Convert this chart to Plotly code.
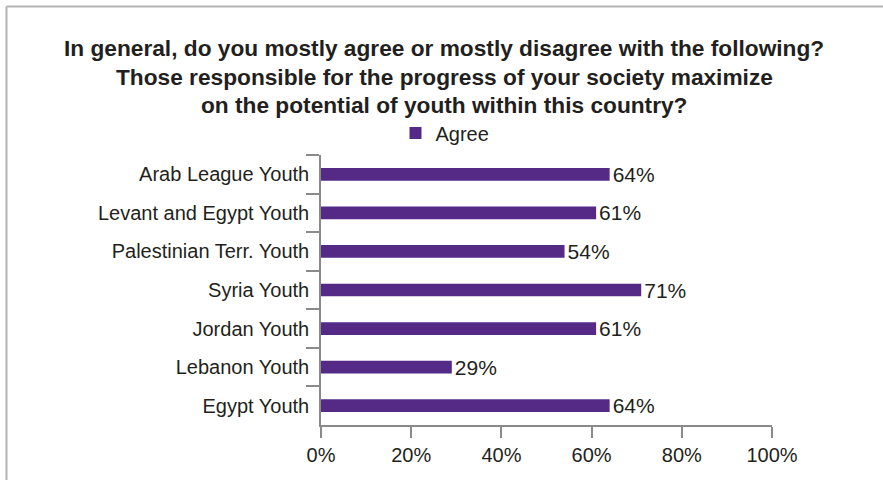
import plotly.graph_objects as go

categories = ["Arab League Youth", "Levant and Egypt Youth", "Palestinian Terr. Youth",
              "Syria Youth", "Jordan Youth", "Lebanon Youth", "Egypt Youth"]
agree = [64, 61, 54, 71, 61, 29, 64]
tick_vals = [0, 20, 40, 60, 80, 100]
tick_text = ["0%", "20%", "40%", "60%", "80%", "100%"]
series_name = "Agree"
title_lines = ["In general, do you mostly agree or mostly disagree with the following?",
               "Those responsible for the progress of your society maximize",
               "on the potential of youth within this country?"]

W, H = 883, 480
L, R, T, B = 321, 111, 155, 55
pw, ph = W - L - R, H - T - B

def px_x(x):
    return (x - L) / pw

def px_y(y):
    return (H - B - y) / ph

txt = "#231f20"
fnt = "Liberation Sans, Arial, sans-serif"

fig = go.Figure()
fig.add_trace(go.Bar(
    y=categories, x=agree, orientation="h", name=series_name,
    marker=dict(color="#552a87", line=dict(width=0)),
    width=0.33,
    text=[f"{v}%" for v in agree], textposition="outside",
    constraintext="none",
    textfont=dict(size=21, color=txt, family=fnt),
    cliponaxis=False,
))

title_y = [48, 76.5, 105]
annotations = [
    dict(text="<b>" + line + "</b>", xref="paper", yref="paper",
         x=px_x(444), y=px_y(yy), xanchor="center", yanchor="middle",
         showarrow=False, font=dict(size=22.7, color=txt, family=fnt))
    for line, yy in zip(title_lines, title_y)
]

fig.update_layout(
    width=W, height=H,
    margin=dict(l=L, r=R, t=T, b=B, pad=0),
    paper_bgcolor="white", plot_bgcolor="white",
    font=dict(family=fnt, color=txt, size=20),
    annotations=annotations,
    showlegend=True,
    legend=dict(orientation="h", x=px_x(445), xanchor="center",
                y=px_y(133), yanchor="middle",
                font=dict(size=20, color=txt), itemwidth=30,
                bgcolor="rgba(0,0,0,0)"),
    bargap=0.67,
    xaxis=dict(range=[0, 100], tickvals=tick_vals, ticktext=tick_text,
               showgrid=False, zeroline=False, showline=True, linecolor="#8a8a8a",
               linewidth=1.5, ticks="outside", ticklen=11, tickcolor="#8a8a8a",
               tickwidth=1.5, tickfont=dict(size=20, color=txt), fixedrange=True),
    yaxis=dict(autorange="reversed", showgrid=False, zeroline=False, showline=True,
               linecolor="#8a8a8a", linewidth=1.5, ticks="outside", ticklen=13,
               tickson="boundaries", tickcolor="#8a8a8a", tickwidth=1.5,
               tickfont=dict(size=20, color=txt), ticklabelstandoff=6),
    shapes=[
        dict(type="line", xref="paper", yref="paper",
             x0=px_x(6.5), x1=px_x(W + 2), y0=px_y(6.5), y1=px_y(6.5),
             line=dict(color="#b4b4b4", width=2)),
        dict(type="line", xref="paper", yref="paper",
             x0=px_x(6.5), x1=px_x(6.5), y0=px_y(6.5), y1=px_y(H + 2),
             line=dict(color="#b4b4b4", width=2)),
    ],
)

fig.write_html("out.html", config={"displayModeBar": False},
               post_script="document.body.style.margin='0';")
